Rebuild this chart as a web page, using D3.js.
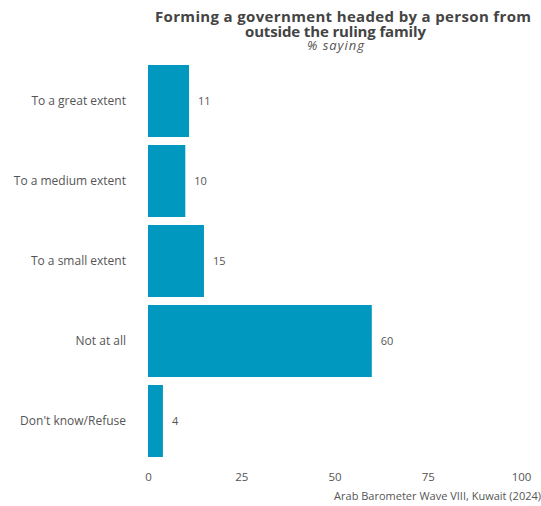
<!DOCTYPE html>
<html><head><meta charset="utf-8">
<script src="https://cdn.jsdelivr.net/npm/d3@7"></script>
<style>body{margin:0;background:#fff}svg{display:block}text{font-family:"Open Sans",sans-serif}</style>
</head><body>
<svg id="c" width="541" height="506"></svg>
<script>
const categories = ["To a great extent","To a medium extent","To a small extent","Not at all","Don't know/Refuse"];
const values = [11,10,15,60,4];
const ticks = [0,25,50,75,100];
const svg = d3.select("#c");
const x = d3.scaleLinear().domain([0,100]).range([148,521]);
const y = d3.scaleBand().domain(categories).range([61,461]).paddingInner(0.1).paddingOuter(0.05);
const col = "#0098be";
svg.selectAll("rect.bar").data(categories).join("rect").attr("class","bar")
  .attr("x",x(0)).attr("y",d=>y(d)).attr("height",y.bandwidth())
  .attr("width",(d,i)=>x(values[i])-x(0)).attr("fill",col);
svg.selectAll("text.val").data(categories).join("text").attr("class","val")
  .attr("x",(d,i)=>x(values[i])+9).attr("y",d=>y(d)+y.bandwidth()/2).attr("dy","0.35em")
  .attr("font-size",11).attr("fill","#555").text((d,i)=>values[i]);
svg.selectAll("text.cat").data(categories).join("text").attr("class","cat")
  .attr("x",126).attr("y",d=>y(d)+y.bandwidth()/2).attr("dy","0.35em").attr("text-anchor","end")
  .attr("font-size",12).attr("fill","#555").text(d=>d);
const ax = svg.append("g").attr("transform","translate(0,470)")
  .call(d3.axisBottom(x).tickValues(ticks).tickSize(0).tickPadding(3));
ax.select(".domain").remove();
ax.selectAll("text").attr("font-size",11.5).attr("fill","#555").style("font-family","'Open Sans',sans-serif");
svg.append("text").attr("x",541).attr("y",500).attr("text-anchor","end").attr("font-size",11).attr("fill","#555").text("Arab Barometer Wave VIII, Kuwait (2024)");
svg.append("text").attr("x",343).attr("y",22).attr("text-anchor","middle").attr("font-size",15).attr("font-weight","bold").attr("fill","#444")
  .attr("textLength",376).attr("lengthAdjust","spacing").text("Forming a government headed by a person from");
svg.append("text").attr("x",335.5).attr("y",37).attr("text-anchor","middle").attr("font-size",15).attr("font-weight","bold").attr("fill","#444")
  .attr("textLength",181).attr("lengthAdjust","spacing").text("outside the ruling family");
svg.append("text").attr("x",335.5).attr("y",50).attr("text-anchor","middle").attr("font-size",13).attr("font-style","italic").attr("fill","#555")
  .attr("textLength",57).attr("lengthAdjust","spacing").text("% saying");
</script>
</body></html>
